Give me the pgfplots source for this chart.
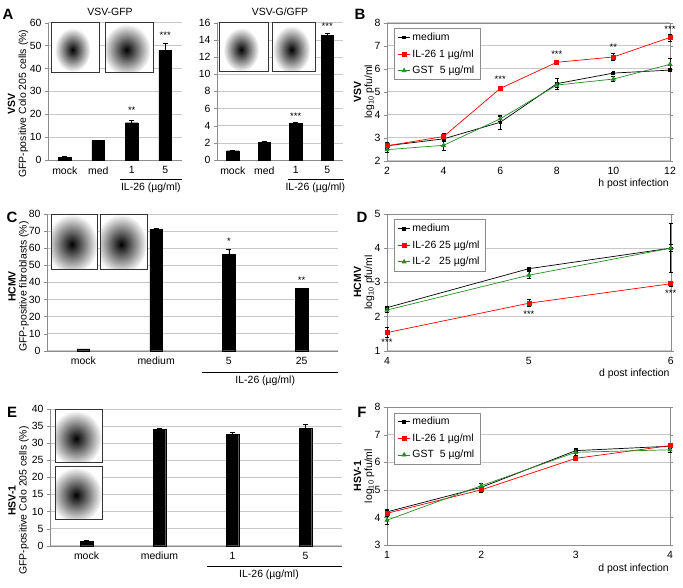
\documentclass[border=0pt]{standalone}
\usepackage{fontspec}
\setmainfont{Liberation Sans}
\usepackage{pgfplots}
\pgfplotsset{compat=1.18}
\usetikzlibrary{calc}
\definecolor{grn}{RGB}{40,140,40}
\definecolor{gridc}{RGB}{200,200,200}
\definecolor{axc}{RGB}{140,140,140}
\newcommand{\tf}{\fontsize{10.5}{12}\selectfont}
\newcommand{\stf}{\fontsize{9.5}{9.5}\selectfont}
\newcommand{\inset}[6]{%
  \begin{scope}
    \clip (rel axis cs:#1,#2) rectangle (rel axis cs:#3,#4);
    \fill[white] (rel axis cs:#1,#2) rectangle (rel axis cs:#3,#4);
    \shade[inner color=black, outer color=white] ($(rel axis cs:#1,#2)!0.45!(rel axis cs:#3,#4)$) ellipse [x radius=#5, y radius=#6];
  \end{scope}
  \draw[black!80, line width=0.7bp] (rel axis cs:#1,#2) rectangle (rel axis cs:#3,#4);}
\pgfplotsset{
  common/.style={scale only axis, enlargelimits=false, clip=false,
    axis line style={axc}, ymajorgrids, grid style={gridc, line width=0.6bp},
    tick label style={font=\tf}, label style={font=\fontsize{10.5}{11}\selectfont},
    /pgf/number format/assume math mode=true,
    tick align=outside, major tick length=3bp,
    ytick style={axc}, xtick style={draw=none}},
  barax/.style={common, axis x line*=bottom, axis y line*=left, ymin=0,
    xmin=-0.5, xmax=3.5, xtick={0,1,2,3}, ybar, bar width=12.5bp,
    ylabel style={align=center, anchor=center}},
  lineax/.style={common, legend cell align=left,
    legend style={draw=axc, font=\fontsize{10.5}{12}\selectfont, at={(rel axis cs:0.025,0.96)}, anchor=north west, inner xsep=3.5bp, inner ysep=2.5bp, row sep=3.5bp},
    legend image code/.code={\draw[mark repeat=2,mark phase=2,##1] plot coordinates {(0bp,0bp) (6bp,0bp) (12bp,0bp)};},
    ylabel style={align=center, anchor=center, at={([xshift=-23bp]rel axis cs:0,0.5)}},
    xlabel style={at={(ticklabel cs:1)}, anchor=north east, inner sep=1bp}},
  med/.style={black, line width=0.7bp, mark=square*, mark size=1.3bp, mark options={solid}},
  il/.style={red, line width=0.7bp, mark=square*, mark size=2bp, mark options={solid}},
  gst/.style={grn, line width=0.7bp, mark=triangle*, mark size=2.3bp, mark options={solid}},
  eb/.style={error bars/.cd, y dir=both, y explicit, error bar style={black, line width=0.6bp}, error mark options={rotate=90, black, mark size=2bp, line width=0.6bp}},
  bar/.style={fill=black, draw=black, error bars/.cd, y dir=plus, y explicit, error bar style={black, line width=0.6bp}, error mark options={rotate=90, black, mark size=2.5bp, line width=0.6bp}},
}
\begin{document}
\begin{tikzpicture}
\path[use as bounding box] (0,0) rectangle (683bp,-588bp);
% ---------- A1 ----------
\begin{axis}[barax, at={(48bp,-160bp)}, anchor=south west, width=134bp, height=137.3bp,
  ymax=60, ytick={0,10,...,60}, xticklabels={mock,med,1,5},
  ylabel={\textbf{VSV}\\GFP-positive Colo 205 cells (\%)}, ylabel style={at={([xshift=-30bp]rel axis cs:0,0.41)}}]
\addplot[bar] coordinates {(0,1.2)+-(0,0.2) (1,8.5)+-(0,0.3) (2,16.3)+-(0,1.1) (3,48)+-(0,3.2)};
\inset{0.022}{0.64}{0.38}{1}{18bp}{22bp}
\inset{0.425}{0.64}{0.784}{1}{24bp}{26bp}
\node[font=\stf] at (axis cs:2,21.8) {**};
\node[font=\stf] at (axis cs:3,54.6) {***};
\draw[line width=0.8bp] ([yshift=-19bp]axis cs:1.65,0) -- ([yshift=-19bp]axis cs:3.5,0);
\node[font=\tf] at ([yshift=-28bp]axis cs:2.57,0) {IL-26 (µg/ml)};
\end{axis}
% ---------- A2 ----------
\begin{axis}[barax, at={(217bp,-160bp)}, anchor=south west, width=126bp, height=137.3bp,
  ymax=16, ytick={0,2,...,16}, xticklabels={mock,med,1,5}]
\addplot[bar] coordinates {(0,1.08)+-(0,0.1) (1,2.05)+-(0,0.1) (2,4.25)+-(0,0.12) (3,14.5)+-(0,0.3)};
\inset{0.016}{0.643}{0.405}{1}{18bp}{22bp}
\inset{0.437}{0.643}{0.778}{1}{19bp}{24bp}
\node[font=\stf] at (axis cs:2,5.05) {***};
\node[font=\stf] at (axis cs:3,15.6) {***};
\draw[line width=0.8bp] ([yshift=-19bp]axis cs:1.75,0) -- ([yshift=-19bp]axis cs:3.53,0);
\node[font=\tf] at ([yshift=-28bp]axis cs:2.62,0) {IL-26 (µg/ml)};
\end{axis}
% ---------- B ----------
\begin{axis}[lineax, at={(387bp,-160.7bp)}, anchor=south west, width=283bp, height=138bp,
  xmin=2, xmax=12, ymin=2, ymax=8, xtick={2,4,...,12}, ytick={2,...,8},
  ylabel={\textbf{VSV}\\log\textsubscript{10} pfu/ml}, xlabel={h post infection}]
\addplot[med, eb] coordinates {(2,2.65)+-(0,0.15) (4,2.95)+-(0,0.1) (6,3.67)+-(0,0.3) (8,5.35)+-(0,0.25) (10,5.81)+-(0,0.05) (12,5.94)+-(0,0.05)};
\addlegendentry{medium}
\addplot[il, eb] coordinates {(2,2.65)+-(0,0.1) (4,3.05)+-(0,0.15) (6,5.14)+-(0,0.1) (8,6.28)+-(0,0.05) (10,6.51)+-(0,0.15) (12,7.36)+-(0,0.15)};
\addlegendentry{IL-26 1 µg/ml}
\addplot[gst, eb] coordinates {(2,2.48)+-(0,0.1) (4,2.67)+-(0,0.2) (6,3.82)+-(0,0.1) (8,5.29)+-(0,0.1) (10,5.55)+-(0,0.1) (12,6.19)+-(0,0.25)};
\addlegendentry{GST\ \ 5 µg/ml}
\node[font=\stf] at (axis cs:6,5.54) {***};
\node[font=\stf] at (axis cs:8,6.61) {***};
\node[font=\stf] at (axis cs:10,6.95) {**};
\node[font=\stf] at (axis cs:12,7.7) {***};
\end{axis}
% ---------- C ----------
\begin{axis}[barax, at={(47bp,-350.7bp)}, anchor=south west, width=291bp, height=136.7bp,
  ymax=80, ytick={0,10,...,80}, xticklabels={mock,medium,5,25},
  ylabel={\textbf{HCMV}\\GFP-positive fibroblasts (\%)}, ylabel style={at={([xshift=-28.5bp]rel axis cs:0,0.47)}}]
\addplot[bar] coordinates {(0,1.0)+-(0,0.1) (1,71)+-(0,0.8) (2,56.4)+-(0,2.8) (3,36.5)+-(0,0.3)};
\inset{0.014}{0.598}{0.172}{1}{26bp}{30bp}
\inset{0.182}{0.598}{0.344}{1}{26bp}{30bp}
\node[font=\stf] at (axis cs:2,64) {*};
\node[font=\stf] at (axis cs:3,41) {**};
\draw[line width=0.8bp] ([yshift=-21.6bp]axis cs:1.63,0) -- ([yshift=-21.6bp]axis cs:3.5,0);
\node[font=\tf] at ([yshift=-30bp]axis cs:2.5,0) {IL-26 (µg/ml)};
\end{axis}
% ---------- D ----------
\begin{axis}[lineax, at={(387bp,-350.7bp)}, anchor=south west, width=283.7bp, height=136.7bp,
  xmin=4, xmax=6, ymin=1, ymax=5, xtick={4,5,6}, ytick={1,...,5},
  ylabel={\textbf{HCMV}\\log\textsubscript{10} pfu/ml}, xlabel={d post infection}]
\addplot[med, eb] coordinates {(4,2.26)+-(0,0.05) (5,3.40)+-(0,0.05) (6,4.0)+-(0,0.72)};
\addlegendentry{medium}
\addplot[il, eb] coordinates {(4,1.53)+-(0,0.15) (5,2.39)+-(0,0.1) (6,2.96)+-(0,0.07)};
\addlegendentry{IL-26 25 µg/ml}
\addplot[gst, eb] coordinates {(4,2.19)+-(0,0.07) (5,3.21)+-(0,0.1) (6,4.0)+-(0,0.1)};
\addlegendentry{IL-2\phantom{6} 25 µg/ml}
\node[font=\stf] at (axis cs:4,1.26) {***};
\node[font=\stf] at (axis cs:5,2.06) {***};
\node[font=\stf] at (axis cs:6,2.68) {***};
\end{axis}
% ---------- E ----------
\begin{axis}[barax, at={(50bp,-545.7bp)}, anchor=south west, width=292bp, height=136.7bp,
  ymax=40, ytick={0,5,...,40}, xticklabels={mock,medium,1,5},
  ylabel={\textbf{HSV-1}\\GFP-positive Colo 205 cells (\%)}, ylabel style={at={([xshift=-31.5bp]rel axis cs:0,0.33)}}]
\addplot[bar] coordinates {(0,1.2)+-(0,0.4) (1,34.0)+-(0,0.5) (2,32.5)+-(0,0.7) (3,34.3)+-(0,1.2)};
\inset{0.017}{0.607}{0.178}{1}{26bp}{28bp}
\inset{0.017}{0.195}{0.178}{0.583}{26bp}{28bp}
\draw[line width=0.8bp] ([yshift=-20.3bp]axis cs:1.65,0) -- ([yshift=-20.3bp]axis cs:3.5,0);
\node[font=\tf] at ([yshift=-29.5bp]axis cs:2.5,0) {IL-26 (µg/ml)};
\end{axis}
% ---------- F ----------
\begin{axis}[lineax, at={(387bp,-545bp)}, anchor=south west, width=283bp, height=138bp,
  xmin=1, xmax=4, ymin=3, ymax=8, xtick={1,2,3,4}, ytick={3,...,8},
  ylabel={\textbf{HSV-1}\\log\textsubscript{10} pfu/ml}, xlabel={d post infection}]
\addplot[med, eb] coordinates {(1,4.2)+-(0,0.1) (2,5.09)+-(0,0.15) (3,6.42)+-(0,0.1) (4,6.58)+-(0,0.05)};
\addlegendentry{medium}
\addplot[il, eb] coordinates {(1,4.15)+-(0,0.05) (2,5.0)+-(0,0.1) (3,6.14)+-(0,0.05) (4,6.6)+-(0,0.08)};
\addlegendentry{IL-26 1 µg/ml}
\addplot[gst, eb] coordinates {(1,3.9)+-(0,0.15) (2,5.15)+-(0,0.08) (3,6.36)+-(0,0.1) (4,6.45)+-(0,0.1)};
\addlegendentry{GST\ \ 5 µg/ml}
\end{axis}
% ---------- labels ----------
\begin{scope}[every node/.style={font=\bfseries\fontsize{15}{15}\selectfont}]
\node at (8bp,-14bp) {A};
\node at (360bp,-14bp) {B};
\node at (12bp,-217bp) {C};
\node at (362bp,-217bp) {D};
\node at (12bp,-412bp) {E};
\node at (362bp,-412bp) {F};
\end{scope}
\node[font=\tf] at (110bp,-12bp) {VSV-GFP};
\node[font=\tf] at (280bp,-12bp) {VSV-G/GFP};
\end{tikzpicture}
\end{document}
